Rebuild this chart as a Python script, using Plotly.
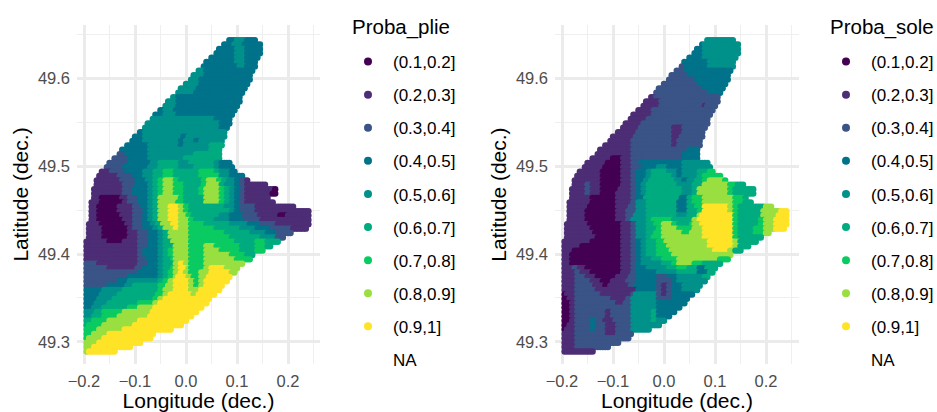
import plotly.graph_objects as go

W, H = 937, 412
CLASSES = ["(0.1,0.2]", "(0.2,0.3]", "(0.3,0.4]", "(0.4,0.5]", "(0.5,0.6]", "(0.6,0.7]", "(0.7,0.8]", "(0.8,0.9]", "(0.9,1]", "NA"]
COLORS = ["#440154", "#4D2D75", "#3A5487", "#00728A", "#00918A", "#00AB80", "#0ACB62", "#9ADF40", "#FFE327", "rgba(0,0,0,0)"]
LON_START, LON_UNIT, COL_STEP = -0.20, 0.01, 0.5
LAT_START, LAT_STEP = 49.644, -0.005
XTICKS = [-0.2, -0.1, 0.0, 0.1, 0.2]
XTICKTEXT = ["\u22120.2", "\u22120.1", "0.0", "0.1", "0.2"]
YTICKS = [49.3, 49.4, 49.5, 49.6]

# Each row (north to south): "column:class" runs, last number = end column
PLIE = [
"28.5:4 30:5 32:4 34","27.5:4 29.5:5 31.5:4 35","26.5:4 30:5 32:4 35","26:4 30:5 32:4 35","25:4 30:5 32:4 34.5","24:4 30:5 32:4 34",
"23.5:4 30.5:5 32:4 34","22.5:5 24:4 33.5","21.5:5 24:4 33","21:5 23:4 33","20:5 23:4 32.5","19:5 22.5:4 32","18.5:5 22:4 31.5",
"17.5:5 18.5:4 31","16.5:5 18.5:4 31","16:5 18.5:4 30.5","15:4 16:5 18:4 30","14:4 16:5 18.5:4 29.5","13.5:5 26:4 29","12.5:5 27:4 29",
"12:5 27:4 28.5","11:4 12:5 28","10:4 12:5 19.5:4 20.5:5 28","9.5:4 12:5 19:4 20:5 22:4 23:5 27.5","8.5:4 13:5 19:4 20:5 25:6 27.5",
"7.5:4 13:5 25:6 27","7:3 8.5:4 13:5 22:6 27","6:3 9:4 13:5 20:6 27","5:3 9:4 13.5:5 15:6 19:5 21:6 26:5 27:4 29",
"4.5:3 8:4 13:5 15:6 19:5 22:6 26:5 27:4 29.5","3.5:2 5.5:3 8.5:4 12:5 14:6 16:7 18:6 23:7 26:6 27:5 29:4 30",
"3:2 7:3 10:4 12:5 14:6 16:7 18:6 23:7 27:5 29:4 31.5",
"2.5:2 7.5:3 10.5:4 12.5:5 14:6 15:7 16:8 18:7 19:6 23.5:7 24.5:8 26.5:7 27.5:6 28.5:5 30:4 31:3 32:2 32.5",
"2.5:2 8:3 10.5:4 13:5 14:6 15:7 16:8 18:7 20:6 23.5:7 24.5:8 27:6 28:5 30:4 31:3 32:2 36",
"2:2 8:3 10:4 13:5 14:6 15:7 16:8 18:7 20:6 23:7 24:8 27:7 28:6 29:5 30:4 31:3 32:2 37.5:1 38",
"2:2 8:3 10:4 13:5 14:6 15:7 16:8 18:7 20:6 23:7 24:8 27:7 28:6 29:5 30:4 31:3 32:2 37:1 38",
"2:2 3.5:1 7.5:2 9:3 11:4 13:5 14:6 15:8 19:7 20:6 24:8 27:7 28:6 29:5 30:4 31:3 32:2 36.5",
"1.5:2 3.5:1 8:2 9:3 11:4 13:5 14:6 15:8 18.5:7 20:6 24:8 27:7 28:6 29:5 30:4 31:3 32:2 37.5",
"1.5:2 3:1 7:2 10:3 11.5:4 13:5 14:6 15:8 17:9 19:8 20:7 21:6 28:5 30:4 31:3 34:2 41.5",
"1.5:2 3:1 7:2 10:3 12:4 13:5 14:6 15:8 17:9 19:8 20:7 21:6 29:5 30:4 31:3 34:2 44.5",
"1.5:2 3:1 7.5:2 10:3 12:4 13:5 14:6 15:8 17:9 19:8 20.5:7 21.5:6 27:5 29:4 31.5:3 34.5:2 38.5:1 40:2 44.5",
"1.5:2 3:1 8:2 10:3 12:4 13:5 14:6 15:8 17:9 19:8 21:7 22:6 26:5 29:4 32:3 35:2 44.5",
"1:2 3.5:1 8.5:2 10:3 12:4 13.5:5 14.5:6 15.5:8 17.5:9 19:8 21:7 24:6 29:5 32.5:4 35:3 38:2 44.5",
"1:2 4:1 9:2 10:3 12:4 14:5 15:6 16:8 18:9 19:8 21:7 26:6 31:5 34:4 37:3 41:2 44",
"1:2 4:1 9:2 11:3 13:4 15:5 16:6 17:8 21:7 28:6 33:5 36:4 38:3 41",
"1:2 4:1 9:2 11:3 13:4 15:5 16:6 17:8 21:7 29:6 35:5 38:3 39.5",
"0.5:2 5:1 8:2 11:3 13:4 15:5 16:6 17.5:8 21:7 30:6 34:7 36:6 38.5",
"0.5:2 11:3 13:4 15:5 16:6 18:8 21:7 24:8 26:7 31:6 34:7 36:6 37",
"0.5:2 11:3 12:4 15:5 16:6 17:7 18:8 21:7 24:8 27:7 31:6 34:7 35.5",
"0.5:2 11:3 12:4 15:5 16:6 17:7 18:8 21:7 24:8 29:7 32:6 33.5",
"0.5:2 11:3 12.5:4 15:5 16:6 17.5:7 18:8 21:7 24:8 30:7 33",
"0.5:3 3:2 11:3 13:4 15:5 16:6 18:8 19:9 20:8 21:7 24:8 31.5",
"0.5:3 5:2 10.5:3 12:4 15:5 16:6 17.5:7 18:8 19:9 20.5:8 21:7 24:8 25:9 28:8 30.5",
"0.5:3 11:4 15:5 16:6 17:7 18:8 19:9 20:8 21:7 23:8 25:9 29:8 30",
"0.5:3 9:4 15:5 16:6 17:7 18:8 18.5:9 20.5:8 21.5:7 23:8 24.5:9 29",
"0.5:3 7:4 9:5 15:6 16:7 17:8 18:9 21:8 22:7 23:8 24:9 28.5",
"0.5:3 5:4 8.5:5 10:6 15:7 16.5:8 18:9 21:8 22:7 23:8 24:9 27.5",
"0.5:4 4:5 8:6 15:7 16:8 18:9 21:8 23:9 27",
"0.5:4 3.5:5 7:6 14.5:7 16:8 17:9 21.5:8 22.5:9 26",
"0.5:4 3:5 6:6 14:7 15:8 16:9 25",
"0.5:4 2.5:5 5:6 11:7 14:8 15:9 24.5",
"0.5:4 2:5 4:6 9:7 11:8 14:9 23.5",
"0.5:5 2.5:6 4:7 8:8 13.5:9 22.5",
"0.5:5 2:6 4:7 7:8 13:9 21.5",
"0.5:6 2:7 5:8 11:9 20.5",
"0.5:6 1:7 4:8 10:9 19.5",
"0.5:7 3:8 8:9 17.5",
"0.5:7 2:8 5:9 14",
"0.5:7 1:8 4:9 13.5",
"0.5:8 3:9 11.5",
"0.5:8 2:9 9.5",
"0.5:8 1:9 6.5",
]
SOLE = [
"28.5:5 34","27.5:4 28:5 35","26.5:4 28:5 35","26:4 28:5 35","25:4 28:5 34.5","24:4 29:5 34","23.5:3 24.5:4 29:5 34",
"22.5:3 24.5:4 33.5","21.5:3 25:4 33","21:3 26.5:4 33","20:3 27:4 32.5","19:3 28:4 32","18.5:3 29:4 31.5","17.5:2 18.5:3 31",
"16.5:2 19.5:3 31","16:2 19.5:3 28:2 28.5:3 30.5","15:2 18:3 30","14:2 18:3 29.5","13.5:2 17:3 29","12.5:2 16:3 29",
"12:2 15.5:3 22:2 24:3 28.5","11:2 15:3 22:2 24:3 28","10:2 14.5:3 22:2 23.5:3 28","9.5:2 14:3 22:2 23:3 27.5","8.5:2 14:3 22:2 23:3 27.5",
"7.5:2 14:3 25:4 27","7:2 14:3 24:4 27","6:2 10:1 12:2 14:3 24:4 27","5:2 9:1 12:2 14:3 15.5:4 24:5 29",
"4.5:2 8.5:1 12:2 14:3 16:4 19:5 21:4 24:5 29.5","3.5:2 8:1 12:2 14:3 15:4 17:5 18:6 21:5 23:4 24:5 27:6 29:7 30",
"3:2 8:1 12:2 14:3 15:4 17:5 18:6 22:5 23:4 24:5 27:6 28:7 31.5",
"2.5:2 8:1 12:2 14:3 15:4 16.5:5 17.5:6 22.5:5 24:4 25:5 26.5:6 28:7 29:8 32:7 32.5",
"2.5:2 5:3 6:2 8:1 12:2 14:3 15:4 16:5 17:6 23:5 26:6 28:8 33:7 34.5:6 36",
"2:2 5:3 6:2 8:1 11.5:2 14:3 15:4 16:5 17:6 24:5 26:6 27:8 33:7 34:6 38",
"2:2 5:3 6:2 8:1 11:2 14:3 15:4 16:5 17:6 24:5 26:6 27:8 33:7 34:6 38",
"2:2 6:1 11:2 14:3 15:4 16.5:6 23.5:4 25:6 26:7 28:8 34:7 36:6 36.5",
"1.5:2 6:1 11:2 14:3 15:5 17:6 23:4 25:6 26:7 28:8 34:7 36:6 37.5",
"1.5:2 5.5:1 11:2 13.5:3 15:5 17:6 23:4 25:6 26.5:7 28:9 33:8 34:7 35:6 40:8 41.5",
"1.5:2 5:1 11:2 13:3 15:5 17:6 23:4 25:6 27:7 28:9 33:8 34:7 35:6 39.5:8 43:9 44.5",
"1.5:2 5:1 11:2 13:3 14.5:5 17:6 23:5 25:6 27:8 27.5:9 34:7 35:6 39.5:8 42.5:9 44.5",
"1.5:2 5:1 11:2 13:3 14:5 17:6 18:7 22:6 26:8 27:9 34:7 35:6 39:7 40:8 42:9 44.5",
"1:2 5.5:1 12:2 14:3 15:5 17:6 18.5:7 20:8 22:7 23:6 25.5:7 26:8 27.5:9 34:7 35:6 39:7 40:8 42:9 44.5",
"1:2 6:1 12:2 14:3 15:5 17:6 19:7 20:8 23:7 26:8 28:9 34:7 35:6 38:7 40:8 42:9 44",
"1:2 6.5:1 12:2 14:3 15:5 17:6 18.5:7 20:8 24:7 25.5:8 28:9 34:7 35:6 38:7 40:8 41",
"1:2 7:1 12:2 14:3 15:5 17:6 18:7 20:8 28:9 34:7 35:6 39.5",
"0.5:2 6:1 12:2 14:3 15:4 16:5 17:6 19:7 20.5:8 29:9 34:8 35:6 38.5",
"0.5:2 4:1 12:2 14:3 15:4 16:5 17:6 19:7 21:8 29:9 34:8 35:6 37",
"0.5:2 2.5:1 12:2 14:3 15:4 16:5 17:6 19:7 21.5:8 30:9 33:8 34:6 35.5",
"0.5:2 2:1 12:2 14:3 15:4 16:5 17:6 19:7 22:8 33.5",
"0.5:2 2:1 12:2 14:3 15:4 16:5 18:6 20:7 23:8 31:7 33",
"0.5:2 2:1 12:2 14:3 15:4 16:5 20:6 22:7 23:8 26:7 28:6 31.5",
"0.5:2 2.5:3 3.5:2 5:1 12:2 14:3 15:4 17:5 21:6 23:7 25:6 27:4 28.5:6 30.5",
"0.5:2 3:3 4:2 6:1 12:2 14:3 15:4 19:5 23:6 27:4 29:6 30",
"0.5:2 3:3 5:2 7:1 11:2 13.5:3 15:4 19:3 21:4 23:5 28:6 29",
"0.5:2 3:3 6:2 8:1 10:2 13:3 15:4 19:3 22:4 23:5 28.5",
"0.5:2 3:3 6.5:2 8.5:1 9.5:2 13.5:3 14.5:4 19:3 20:2 21:3 22:4 24:5 27.5",
"0.5:2 3:3 7:2 15:4 19:3 20:2 21:3 22:4 24:5 27",
"0.5:1 1:2 3:3 8:2 14:3 14.5:5 19:3 20:2 21:3 22:4 26",
"0.5:1 1.5:2 3:3 10:2 13:3 14:5 19:3 22:4 25",
"0.5:1 2:2 3:3 11:2 12.5:3 14:5 19:4 24.5",
"0.5:1 2:2 3:3 14:5 19:4 23.5",
"0.5:1 2:2 3:3 9:2 10:3 14:5 18:6 19:4 22.5",
"0.5:1 2:2 3:3 9:2 10:3 14:5 18:6 19:4 21.5",
"0.5:1 2:2 3:3 6:4 7:3 8.5:2 10.5:3 14:5 18:6 19:5 20.5",
"0.5:1 1.5:2 3:3 6:4 7:3 9:2 11:3 14:5 19.5",
"0.5:1 1:2 3:3 6:4 7:3 9:2 11:3 14:5 17.5",
"0.5:2 3:3 9:2 11:3 14",
"0.5:2 3:3 13.5",
"0.5:2 3:3 11.5",
"0.5:2 3:3 9.5",
"0.5:2 6.5",
]


def expand(rows):
    lon, lat, col = [], [], []
    for r, row in enumerate(rows):
        parts = row.split()
        end = float(parts[-1])
        runs = [p.split(":") for p in parts[:-1]]
        for i, (start, k) in enumerate(runs):
            stop = float(runs[i + 1][0]) if i + 1 < len(runs) else end
            c = float(start)
            while c < stop:
                lon.append(LON_START + c * LON_UNIT)
                lat.append(LAT_START + r * LAT_STEP)
                col.append(COLORS[int(k) - 1])
                c += COL_STEP
    return lon, lat, col


PANELS = [
    dict(rows=PLIE, title="Proba_plie", left=77, right=320, zero=186, leg=343, title_x=350),
    dict(rows=SOLE, title="Proba_sole", left=555, right=799, zero=664, leg=821, title_x=828),
]
TOP, BOTTOM = 25, 364
LON_PX, LAT_PX = 510.0, 877.0
Y496 = 78.7

fig = go.Figure()
annotations = []
layout = dict(
    width=W, height=H, paper_bgcolor="white", plot_bgcolor="white",
    margin=dict(l=0, r=0, t=0, b=0, autoexpand=False), showlegend=True,
    font=dict(family="Liberation Sans", color="black"),
)
for n, p in enumerate(PANELS, start=1):
    suffix = "" if n == 1 else str(n)
    lon, lat, col = expand(p["rows"])
    fig.add_trace(go.Scatter(x=lon, y=lat, mode="markers", showlegend=False, hoverinfo="skip",
                             marker=dict(color=col, size=6.4, line=dict(width=0)),
                             xaxis="x" + suffix, yaxis="y" + suffix))
    lname = "legend" + suffix
    for name, color in zip(CLASSES, COLORS):
        fig.add_trace(go.Scatter(x=[None], y=[None], mode="markers", name=name, legend=lname,
                                 legendgroup=lname + name, marker=dict(color=color, size=8),
                                 xaxis="x" + suffix, yaxis="y" + suffix))
    xr = [(p["left"] - p["zero"]) / LON_PX, (p["right"] - p["zero"]) / LON_PX]
    yr = [49.6 - (BOTTOM - Y496) / LAT_PX, 49.6 + (Y496 - TOP) / LAT_PX]
    grid = dict(showgrid=True, gridcolor="#EBEBEB", gridwidth=2.6, zeroline=False, showline=False, ticks="",
                tickfont=dict(family="Liberation Sans", size=16.5, color="#4D4D4D"),
                minor=dict(showgrid=True, gridcolor="#EFEFEF", gridwidth=1.4, ticks=""))
    layout["xaxis" + suffix] = dict(grid, domain=[p["left"] / W, p["right"] / W], range=xr, tickmode="array",
                                    tickvals=XTICKS, ticktext=XTICKTEXT, anchor="y" + suffix, ticklabelstandoff=5,
                                    minor=dict(grid["minor"], tickmode="array", tickvals=[-0.15, -0.05, 0.05, 0.15, 0.25]),
                                    title=dict(text="Longitude (dec.)", font=dict(size=21, color="black"), standoff=5))
    layout["yaxis" + suffix] = dict(grid, domain=[1 - BOTTOM / H, 1 - TOP / H], range=yr, tickmode="array",
                                    tickvals=YTICKS, ticktext=[f"{v:.1f}" for v in YTICKS], anchor="x" + suffix,
                                    ticklabelstandoff=6,
                                    minor=dict(grid["minor"], tickmode="array", tickvals=[49.35, 49.45, 49.55, 49.65]),
                                    title=dict(text="Latitude (dec.)", font=dict(size=21, color="black"), standoff=3))
    layout[lname] = dict(x=p["leg"] / W, y=1 - 44 / H, xanchor="left", yanchor="top", bgcolor="rgba(0,0,0,0)",
                         font=dict(size=17), tracegroupgap=8, itemwidth=40, itemclick=False, itemdoubleclick=False)
    annotations.append(dict(text=p["title"], xref="paper", yref="paper", x=p["title_x"] / W, y=1 - 27 / H,
                            xanchor="left", yanchor="middle", showarrow=False, font=dict(size=20.5, color="black")))
layout["annotations"] = annotations
fig.update_layout(**layout)
fig.write_html("out.html", post_script="document.body.style.margin='0';", config=dict(displayModeBar=False))
